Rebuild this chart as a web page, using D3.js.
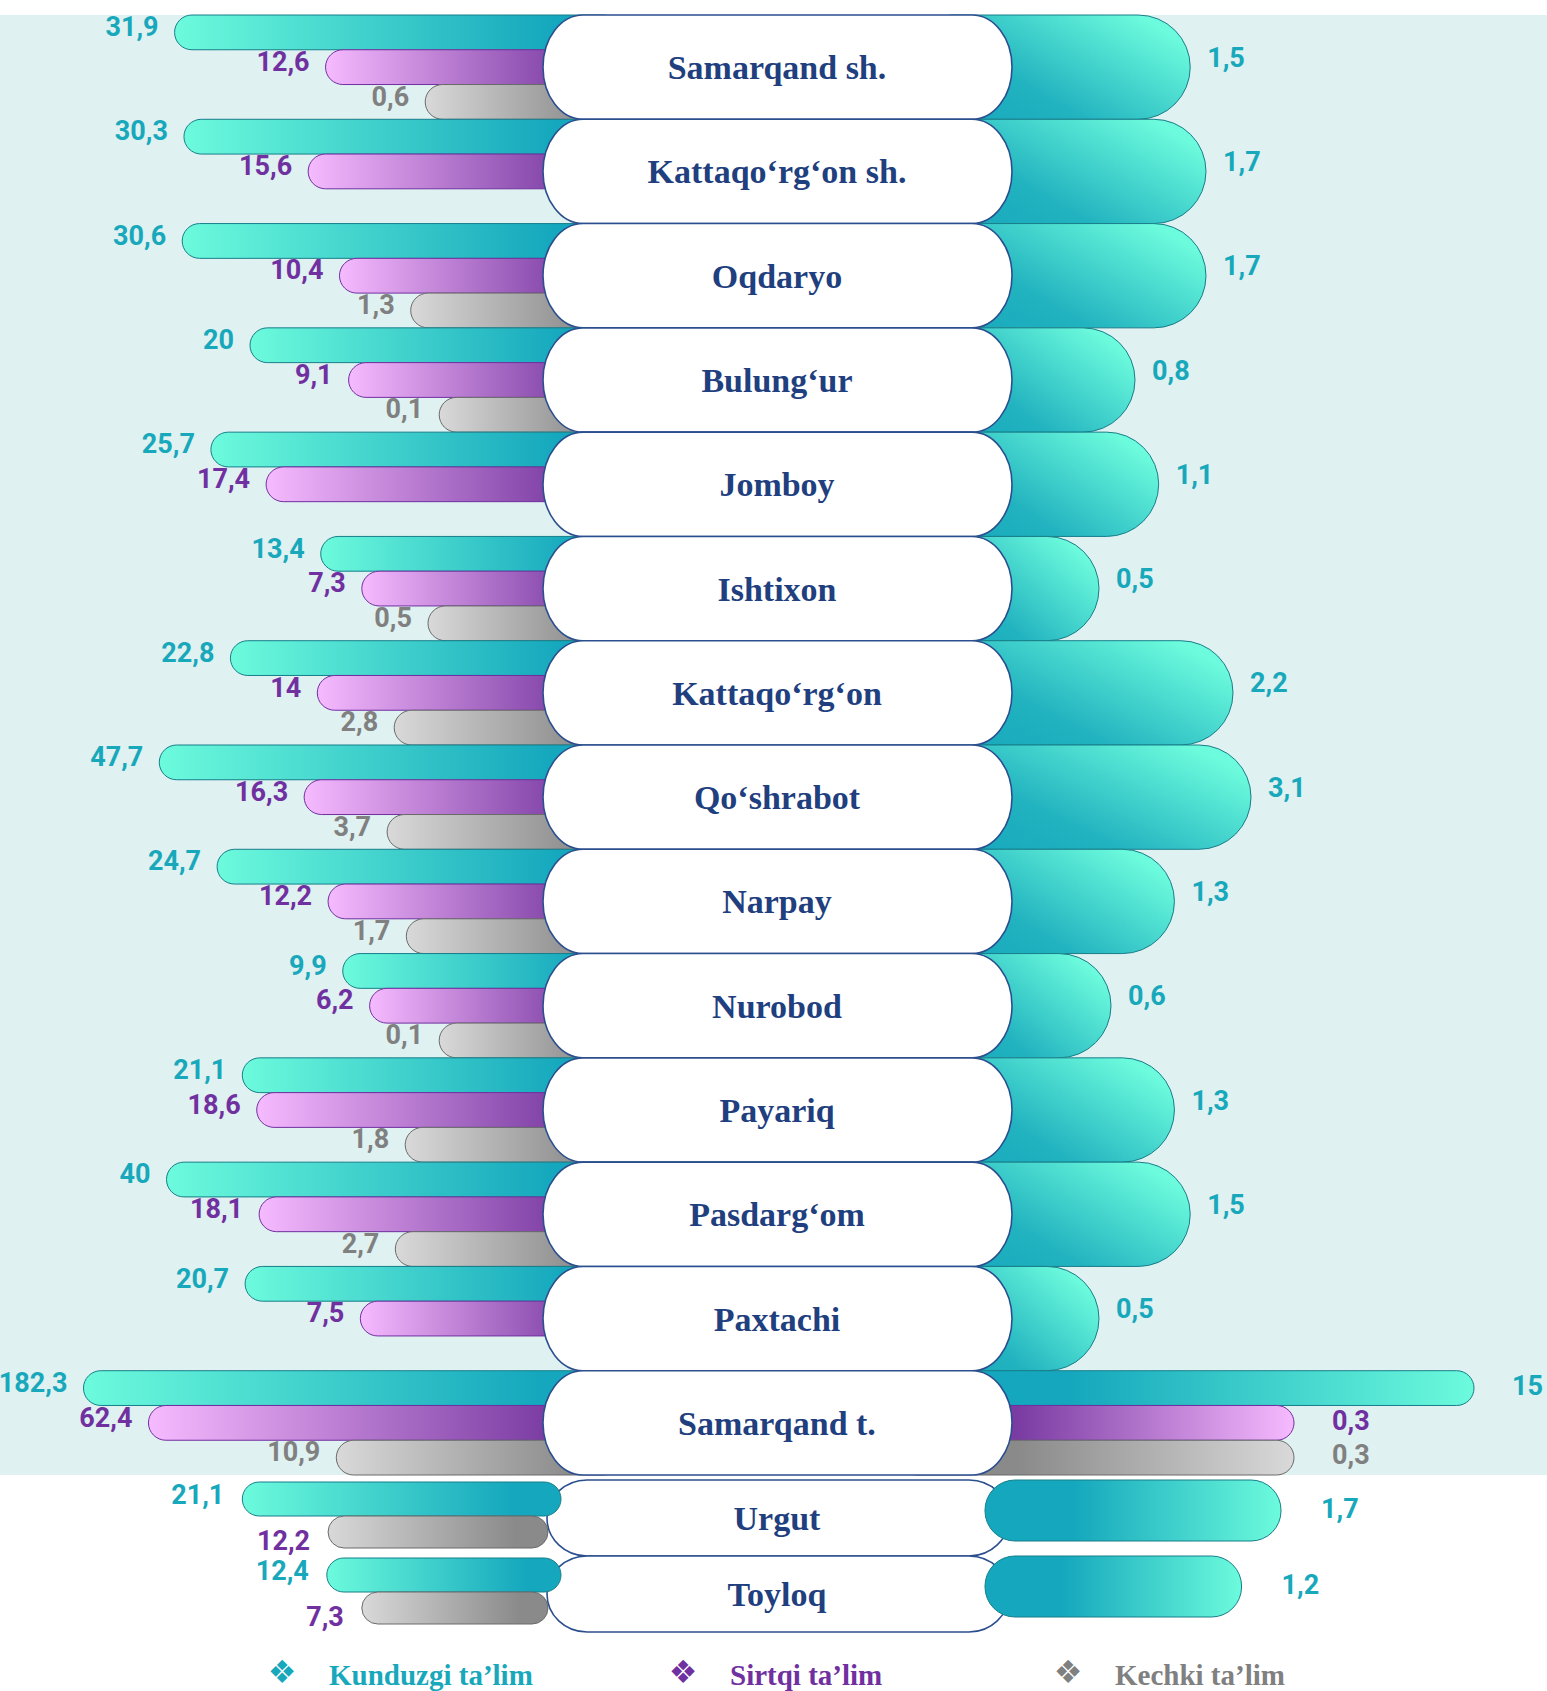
<!DOCTYPE html>
<html>
<head>
<meta charset="utf-8">
<script src="https://cdn.jsdelivr.net/npm/d3@7"></script>
<style>
  body { margin: 0; background: #fff; }
  svg { display: block; }
</style>
</head>
<body>
<svg id="chart"></svg>
<script>
// regions (main block) and the three study forms
var regions = ["Samarqand sh.", "Kattaqo‘rg‘on sh.", "Oqdaryo", "Bulung‘ur", "Jomboy", "Ishtixon",
  "Kattaqo‘rg‘on", "Qo‘shrabot", "Narpay", "Nurobod", "Payariq", "Pasdarg‘om", "Paxtachi", "Samarqand t."];
var kunduzgi = [31.9, 30.3, 30.6, 20, 25.7, 13.4, 22.8, 47.7, 24.7, 9.9, 21.1, 40, 20.7, 182.3];
var sirtqi = [12.6, 15.6, 10.4, 9.1, 17.4, 7.3, 14, 16.3, 12.2, 6.2, 18.6, 18.1, 7.5, 62.4];
var kechki = [0.6, null, 1.3, 0.1, null, 0.5, 2.8, 3.7, 1.7, 0.1, 1.8, 2.7, null, 10.9];

// values on the right hand side
var rightKunduzgi = [1.5, 1.7, 1.7, 0.8, 1.1, 0.5, 2.2, 3.1, 1.3, 0.6, 1.3, 1.5, 0.5, 15];
var rightSirtqi = [null, null, null, null, null, null, null, null, null, null, null, null, null, 0.3];
var rightKechki = [null, null, null, null, null, null, null, null, null, null, null, null, null, 0.3];

// the two rows under the shaded block
var extraRegions = ["Urgut", "Toyloq"];
var extraKunduzgi = [21.1, 12.4];
var extraSirtqi = [12.2, 7.3];
var extraRight = [1.7, 1.2];

var seriesNames = ["Kunduzgi ta’lim", "Sirtqi ta’lim", "Kechki ta’lim"];

var labelColors = ["#18a8bb", "#7030a0", "#808080"];
var strokeColors = ["#177e8a", "#7030a0", "#6a6a6a"];
var lightColors = ["#6cfbdc", "#f6baff", "#d9d9d9"];
var darkColors = ["#15a7bd", "#7a3ca2", "#8a8a8a"];

renderChart();

function fmt(v){
  return String(v).replace('.', ',');
}

function renderChart(){
  var W = 1547, H = 1691;
  var svg = d3.select('#chart')
              .attr('width', W)
              .attr('height', H);

  var defs = svg.append('defs');
  // left side: light at the outer end, dark toward the pill
  // right side: the other way round
  [0, 1, 2].forEach(function(k){
    var gl = defs.append('linearGradient').attr('id', 'gl' + k)
                 .attr('x1', 0).attr('x2', 1).attr('y1', 0).attr('y2', 0);
    gl.append('stop').attr('offset', 0).attr('stop-color', lightColors[k]);
    gl.append('stop').attr('offset', 0.85).attr('stop-color', darkColors[k]);
    gl.append('stop').attr('offset', 1).attr('stop-color', darkColors[k]);

    var gr = defs.append('linearGradient').attr('id', 'gr' + k)
                 .attr('x1', 0).attr('x2', 1).attr('y1', 0).attr('y2', 0);
    gr.append('stop').attr('offset', 0).attr('stop-color', darkColors[k]);
    gr.append('stop').attr('offset', 0.3).attr('stop-color', darkColors[k]);
    gr.append('stop').attr('offset', 1).attr('stop-color', lightColors[k]);
  });
  var gt = defs.append('linearGradient').attr('id', 'gtall')
               .attr('x1', 0).attr('y1', 0.9).attr('x2', 1).attr('y2', 0.3);
  gt.append('stop').attr('offset', 0).attr('stop-color', '#14a5bc');
  gt.append('stop').attr('offset', 0.42).attr('stop-color', '#22b3c0');
  gt.append('stop').attr('offset', 1).attr('stop-color', '#6cfbdc');

  // shaded block
  svg.append('rect')
     .attr('x', 0).attr('y', 15)
     .attr('width', W).attr('height', 1460)
     .attr('fill', '#dff1f0');

  var y = d3.scaleBand().domain(regions).range([15, 1475]);
  var bw = y.bandwidth();
  var bh = bw / 3;

  // the picture is not drawn to a straight scale, so use a bent one
  var xLeft = d3.scaleLinear()
                .domain([0, 1, 3, 7, 10, 13, 16.5, 17.5, 20, 25, 32, 48, 63, 185])
                .range([442, 414, 392, 364, 342, 323, 303, 262, 250, 215, 174, 159, 148, 82]);
  var xRight = d3.scaleLinear()
                 .domain([0, 0.5, 0.8, 1.7, 2.2, 3.1, 15])
                 .range([1054, 1099, 1135, 1206, 1233, 1251, 1474]);
  var xRightTotal = d3.scaleLinear()
                      .domain([0, 0.3, 15])
                      .range([1000, 1294, 1474]);

  var rows = regions.map(function(r, i){
    return {
      name: r,
      vals: [kunduzgi[i], sirtqi[i], kechki[i]],
      right: [rightKunduzgi[i], rightSirtqi[i], rightKechki[i]]
    };
  });

  var leftEnd = 620, rightStart = 900;

  var groups = svg.selectAll('g.row')
                  .data(rows)
                  .enter()
                  .append('g')
                  .attr('class', 'row');

  // left bars
  groups.each(function(d){
    var g = d3.select(this);
    d.vals.forEach(function(v, k){
      if (v == null) return;
      g.append('rect')
       .attr('x', xLeft(v))
       .attr('y', y(d.name) + k * bh)
       .attr('width', leftEnd - xLeft(v))
       .attr('height', bh)
       .attr('rx', bh / 2)
       .attr('fill', 'url(#gl' + k + ')')
       .attr('stroke', strokeColors[k])
       .attr('stroke-width', 1);
    });
    // right bars: one tall bar, or three thin ones for the total row
    if (d.right[1] == null) {
      g.append('rect')
       .attr('x', rightStart)
       .attr('y', y(d.name))
       .attr('width', xRight(d.right[0]) - rightStart)
       .attr('height', bw)
       .attr('rx', bw / 2)
       .attr('fill', 'url(#gtall)')
       .attr('stroke', '#177e8a')
       .attr('stroke-width', 1);
    } else {
      d.right.forEach(function(v, k){
        g.append('rect')
         .attr('x', rightStart)
         .attr('y', y(d.name) + k * bh)
         .attr('width', xRightTotal(v) - rightStart)
         .attr('height', bh)
         .attr('rx', bh / 2)
         .attr('fill', 'url(#gr' + k + ')')
         .attr('stroke', strokeColors[k])
         .attr('stroke-width', 1);
      });
    }
  });

  // pills with names
  svg.selectAll('rect.pill')
     .data(rows)
     .enter()
     .append('rect')
     .attr('class', 'pill')
     .attr('x', 543)
     .attr('y', d => y(d.name))
     .attr('width', 469)
     .attr('height', bw)
     .attr('rx', 40)
     .attr('ry', bw / 2)
     .attr('fill', '#fff')
     .attr('stroke', '#2b4f8e')
     .attr('stroke-width', 1.6);

  svg.selectAll('text.name')
     .data(rows)
     .enter()
     .append('text')
     .attr('class', 'name')
     .attr('x', 777)
     .attr('y', d => y(d.name) + bw / 2 + 12)
     .attr('text-anchor', 'middle')
     .style('font-family', '"Liberation Serif", "Times New Roman", serif')
     .style('font-weight', 'bold')
     .style('font-size', '34px')
     .attr('fill', '#1f3f7f')
     .text(d => d.name);

  // value labels
  groups.each(function(d){
    var g = d3.select(this);
    d.vals.forEach(function(v, k){
      if (v == null) return;
      g.append('text')
       .attr('x', xLeft(v) - 16)
       .attr('y', y(d.name) + k * bh + bh / 2 - 6)
       .attr('dy', '0.36em')
       .attr('text-anchor', 'end')
       .attr('class', 'val')
       .attr('fill', labelColors[k])
       .text(fmt(v));
    });
    if (d.right[1] == null) {
      g.append('text')
       .attr('x', xRight(d.right[0]) + 17)
       .attr('y', y(d.name) + 42)
       .attr('dy', '0.36em')
       .attr('class', 'val')
       .attr('fill', labelColors[0])
       .text(fmt(d.right[0]));
    } else {
      d.right.forEach(function(v, k){
        g.append('text')
         .attr('x', xRightTotal(v) + 38)
         .attr('y', y(d.name) + k * bh + bh / 2 - 3)
         .attr('dy', '0.36em')
         .attr('class', 'val')
         .attr('fill', labelColors[k])
         .text(fmt(v));
      });
    }
  });

  // Urgut and Toyloq
  var yE = d3.scaleBand().domain(extraRegions).range([1480, 1632]);
  var ebw = yE.bandwidth();
  var extraRows = extraRegions.map(function(r, i){
    return { name: r, k: extraKunduzgi[i], s: extraSirtqi[i], r: extraRight[i] };
  });

  var eg = svg.selectAll('g.extra')
              .data(extraRows)
              .enter()
              .append('g')
              .attr('class', 'extra');

  eg.append('rect')
    .attr('x', 547)
    .attr('y', d => yE(d.name))
    .attr('width', 462)
    .attr('height', ebw)
    .attr('rx', 40)
    .attr('ry', ebw / 2)
    .attr('fill', '#fff')
    .attr('stroke', '#2b4f8e')
    .attr('stroke-width', 1.6);

  eg.append('rect')
    .attr('x', d => xLeft(d.k))
    .attr('y', d => yE(d.name) + 2)
    .attr('width', d => 561 - xLeft(d.k))
    .attr('height', 34)
    .attr('rx', 17)
    .attr('fill', 'url(#gl0)')
    .attr('stroke', strokeColors[0]);

  eg.append('rect')
    .attr('x', d => xLeft(d.s))
    .attr('y', d => yE(d.name) + 36)
    .attr('width', d => 548 - xLeft(d.s))
    .attr('height', 32)
    .attr('rx', 16)
    .attr('fill', 'url(#gl2)')
    .attr('stroke', strokeColors[2]);

  eg.append('rect')
    .attr('x', 985)
    .attr('y', d => yE(d.name))
    .attr('width', d => xRight(d.r) + 75 - 985)
    .attr('height', 61)
    .attr('rx', 30)
    .attr('fill', 'url(#gr0)')
    .attr('stroke', strokeColors[0]);

  eg.append('text')
    .attr('x', 777)
    .attr('y', d => yE(d.name) + ebw / 2 + 12)
    .attr('text-anchor', 'middle')
    .style('font-family', '"Liberation Serif", "Times New Roman", serif')
    .style('font-weight', 'bold')
    .style('font-size', '34px')
    .attr('fill', '#1f3f7f')
    .text(d => d.name);

  eg.append('text')
    .attr('class', 'val')
    .attr('x', d => xLeft(d.k) - 18)
    .attr('y', d => yE(d.name) + 14)
    .attr('dy', '0.36em')
    .attr('text-anchor', 'end')
    .attr('fill', labelColors[0])
    .text(d => fmt(d.k));

  eg.append('text')
    .attr('class', 'val')
    .attr('x', d => xLeft(d.s) - 18)
    .attr('y', d => yE(d.name) + 60)
    .attr('dy', '0.36em')
    .attr('text-anchor', 'end')
    .attr('fill', labelColors[1])
    .text(d => fmt(d.s));

  eg.append('text')
    .attr('class', 'val')
    .attr('x', d => xRight(d.r) + 75 + 40)
    .attr('y', d => yE(d.name) + 28)
    .attr('dy', '0.36em')
    .attr('fill', labelColors[0])
    .text(d => fmt(d.r));

  svg.selectAll('text.val')
     .style('font-family', 'Roboto, sans-serif')
     .style('font-weight', 700)
     .style('font-size', '27px');

  // legend
  var legendX = [282, 683, 1068];
  var leg = svg.selectAll('g.legend')
               .data(seriesNames)
               .enter()
               .append('g')
               .attr('class', 'legend')
               .attr('transform', (d, i) => 'translate(' + legendX[i] + ',1685)');
  leg.append('text')
     .attr('text-anchor', 'middle')
     .attr('y', -2)
     .style('font-family', '"DejaVu Sans", sans-serif')
     .style('font-size', '32px')
     .attr('fill', (d, i) => labelColors[i])
     .text('❖');
  leg.append('text')
     .attr('x', 47)
     .style('font-family', '"Liberation Serif", "Times New Roman", serif')
     .style('font-weight', 'bold')
     .style('font-size', '29px')
     .attr('fill', (d, i) => labelColors[i])
     .text(d => d);
}
</script>
</body>
</html>
